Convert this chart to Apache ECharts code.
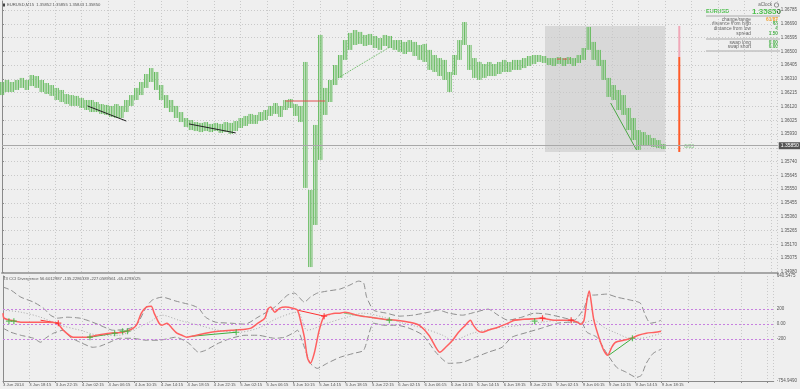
<!DOCTYPE html>
<html><head><meta charset="utf-8">
<script src="https://cdn.jsdelivr.net/npm/echarts@6/dist/echarts.min.js"></script>
<style>html,body{margin:0;padding:0;background:#efefef;}#c{width:800px;height:389px;}</style>
</head><body><div id="c"></div>
<script>
// ---- data ----
const BAR_STEP = 3; // each sample covers 3 M15 bars
const priceHigh = [1.36289,1.36303,1.36289,1.36303,1.36317,1.36303,1.36337,1.36330,1.36303,1.36282,
1.36268,1.36248,1.36234,1.36206,1.36199,1.36193,1.36179,1.36165,1.36165,1.36151,
1.36137,1.36131,1.36124,1.36137,1.36124,1.36165,1.36199,1.36248,1.36289,1.36344,
1.36385,1.36358,1.36268,1.36199,1.36165,1.36124,1.36082,1.36041,1.36027,1.36013,
1.36007,1.36013,1.36000,1.36007,1.36000,1.36013,1.36007,1.36020,1.36041,1.36055,
1.36069,1.36062,1.36082,1.36096,1.36124,1.36144,1.36124,1.36165,1.36172,1.36137,
1.36124,1.36427,1.35545,1.35993,1.36613,1.36248,1.36303,1.36406,1.36475,1.36578,
1.36627,1.36647,1.36634,1.36613,1.36620,1.36606,1.36592,1.36613,1.36606,1.36578,
1.36578,1.36565,1.36578,1.36565,1.36544,1.36551,1.36510,1.36475,1.36454,1.36441,
1.36358,1.36475,1.36578,1.36702,1.36544,1.36454,1.36427,1.36413,1.36427,1.36413,
1.36427,1.36441,1.36427,1.36441,1.36441,1.36454,1.36468,1.36475,1.36475,1.36468,
1.36454,1.36454,1.36461,1.36454,1.36461,1.36454,1.36475,1.36523,1.36668,1.36565,
1.36510,1.36441,1.36317,1.36268,1.36234,1.36199,1.36110,1.36041,1.35958,1.35944,
1.35924,1.35903,1.35889,1.35862];
const priceLow = [1.36199,1.36220,1.36220,1.36234,1.36248,1.36234,1.36261,1.36248,1.36220,1.36206,
1.36193,1.36165,1.36151,1.36137,1.36124,1.36124,1.36110,1.36096,1.36082,1.36082,
1.36069,1.36062,1.36048,1.36041,1.36041,1.36082,1.36124,1.36165,1.36199,1.36248,
1.36289,1.36234,1.36165,1.36110,1.36082,1.36041,1.36013,1.35979,1.35958,1.35951,
1.35944,1.35951,1.35944,1.35951,1.35938,1.35944,1.35931,1.35951,1.35972,1.35986,
1.36000,1.36000,1.36020,1.36027,1.36055,1.36069,1.36048,1.36096,1.36110,1.36055,
1.36013,1.35559,1.35014,1.35304,1.35752,1.36062,1.36151,1.36268,1.36317,1.36441,
1.36510,1.36544,1.36551,1.36537,1.36544,1.36523,1.36510,1.36537,1.36523,1.36510,
1.36496,1.36482,1.36496,1.36468,1.36441,1.36427,1.36372,1.36358,1.36330,1.36303,
1.36220,1.36337,1.36441,1.36544,1.36372,1.36317,1.36303,1.36317,1.36330,1.36330,
1.36344,1.36358,1.36358,1.36372,1.36372,1.36385,1.36399,1.36413,1.36427,1.36420,
1.36406,1.36399,1.36413,1.36399,1.36413,1.36399,1.36420,1.36441,1.36510,1.36441,
1.36399,1.36303,1.36186,1.36165,1.36096,1.36062,1.35958,1.35889,1.35821,1.35848,
1.35848,1.35841,1.35834,1.35827];

const timeLabels = ['3 Jun 2014','3 Jun 18:15','3 Jun 22:15','4 Jun 02:15','4 Jun 06:15','4 Jun 10:15',
'4 Jun 14:15','4 Jun 18:15','4 Jun 22:15','5 Jun 02:15','5 Jun 06:15','5 Jun 10:15','5 Jun 14:15',
'5 Jun 18:15','5 Jun 22:15','6 Jun 02:15','6 Jun 06:15','6 Jun 10:15','6 Jun 14:15','6 Jun 18:15',
'8 Jun 22:15','9 Jun 02:15','9 Jun 06:15','9 Jun 10:15','9 Jun 14:15','9 Jun 18:15'];
const priceLabelValues = [1.34980,1.35075,1.35170,1.35265,1.35360,1.35455,1.35550,1.35645,1.35740,
1.35930,1.36025,1.36120,1.36215,1.36310,1.36405,1.36500,1.36595,1.36690,1.36785];
const priceGridValues = [1.34980,1.35075,1.35170,1.35265,1.35360,1.35455,1.35550,1.35645,1.35740,1.35835,
1.35930,1.36025,1.36120,1.36215,1.36310,1.36405,1.36500,1.36595,1.36690,1.36785];
const cciLabelValues = [-754.9490,-200,0,200,640.5475];
const cciLabelTexts = ['-754.9490','-200','0.00','200','640.5475'];
const cciLevels = [200,0,-200];
const currentPrice = 1.35850;

const cciLine = [[0,147],[0.6,80],[4.8,53],[10.8,27],[18.6,27],[27,27],[33,13],[36.6,-80],[42.6,-173],[51,-173],[57,-147],[64.8,-120],[72.6,-107],[78,-67],[81,-13],[84,147],[87,227],[90,240],[91.8,147],[94.8,13],[96.6,-13],[99.6,13],[102.6,-53],[105.6,-120],[108.6,-147],[111.6,-173],[114.6,-160],[123,-120],[130.8,-93],[138.6,-80],[147,-67],[150.6,-53],[154.8,13],[159,80],[160.8,200],[162.6,227],[165,160],[168,213],[171.6,227],[175.8,213],[178.8,187],[180.6,53],[183,-173],[184.8,-440],[186.6,-520],[189,-387],[192,-80],[195,107],[198.6,133],[201.6,147],[204.6,147],[207.6,160],[210.6,147],[214.8,120],[222.6,93],[231,67],[238.8,53],[246.6,27],[252.6,-13],[258.6,-147],[262.8,-307],[265.2,-373],[268.8,-307],[273,-213],[276.6,-107],[280.8,-13],[283.8,53],[285.6,-13],[288,-80],[291,-107],[294.6,-80],[300.6,-40],[306.6,13],[310.8,53],[318.6,67],[327,80],[334.8,53],[345,53],[348.6,27],[351,0],[352.8,53],[354.6,320],[356,440],[357,320],[358.8,53],[361.8,-173],[364.8,-347],[367.2,-413],[369.6,-307],[372,-240],[376.8,-213],[381.6,-187],[385.8,-147],[390.6,-120],[396,-107],[399.6,-93]];
const upperBand = [[0,493],[4.8,453],[10.8,360],[18.6,293],[24.6,213],[28.8,120],[33,80],[39,93],[46.8,80],[52.8,40],[58.8,-13],[63,-53],[66.6,-80],[75,-67],[81,-13],[87,227],[90.6,320],[96.6,360],[105,307],[114.6,253],[118.8,213],[123,93],[129,27],[138.6,13],[147,0],[154.8,93],[165,227],[172.8,387],[177,413],[183,293],[186.6,360],[190.8,413],[196.8,440],[204.6,467],[210.6,520],[216,573],[219,547],[220.8,360],[225,187],[232.8,147],[240.6,107],[249,120],[258.6,160],[264.6,187],[270.6,147],[279,120],[286.8,160],[294.6,200],[300.6,120],[306.6,53],[315,93],[322.8,147],[330.6,133],[339,93],[346.8,53],[352.8,213],[355.8,387],[358.8,387],[366.6,400],[372.6,360],[381,320],[387,280],[390,120],[393,13],[396.6,27],[399.6,53]];
const lowerBand = [[0,-53],[4.8,-107],[10.8,-147],[18.6,-187],[22.8,-240],[25.8,-187],[30.6,-120],[36.6,-80],[40.8,-173],[46.8,-240],[54.6,-307],[58.8,-293],[64.8,-240],[70.8,-187],[78.6,-187],[87,-213],[94.8,-213],[105,-173],[112.8,-253],[118.8,-373],[123,-347],[130.8,-253],[138.6,-187],[147,-147],[154.8,-147],[165,-187],[171,-173],[177,-107],[178.8,-80],[183,-307],[186.6,-520],[190.8,-587],[196.8,-520],[204.6,-440],[213,-387],[219,-347],[225,13],[231,-13],[238.8,-13],[246.6,-53],[255,-147],[262.8,-373],[270.6,-520],[279,-507],[286.8,-440],[294.6,-373],[303,-307],[309,-173],[318.6,-107],[327,-53],[336.6,13],[345,27],[351,27],[354.6,-107],[360.6,-173],[366.6,-387],[372.6,-573],[378.6,-640],[384.6,-707],[387.6,-680],[390.6,-520],[394.8,-387],[399.6,-333]];
const signalLine = [[0,187],[10.8,160],[22.8,93],[34.8,-13],[46.8,-80],[58.8,-147],[70.8,-147],[78.6,-80],[88.8,27],[96.6,120],[106.8,53],[118.8,-13],[130.8,-80],[142.8,-107],[154.8,-53],[166.8,80],[178.8,160],[184.8,-80],[196.8,13],[208.8,93],[219,147],[231,93],[243,13],[255,-53],[267,-147],[273,-213],[285,-120],[298.8,-53],[315,-13],[327,27],[339,53],[351,13],[358.8,53],[364.8,-40],[372.6,-120],[381,-187],[387,-187],[399.6,-120]];
const bullMarks = [[3.6,40],[6.6,40],[52.8,-173],[67.8,-120],[72.6,-93],[75.6,-93],[141.6,-107],[234.6,53],[322.8,40],[382.2,-187]];
const bearMarks = [[33.6,13],[195,107],[327.6,80],[345,53]];
const bullDivLines = [[[52.8,-173],[75.6,-93]],[[114.6,-160],[141.6,-107]],[[367.8,-413],[382.2,-187]]];
const bullDivDotted = [[207,147],[234.6,53]];
const bearDivLines = [[[22.8,53],[33.6,13]],[[178.8,187],[195,107]],[[309,53],[327.6,80]]];

// chart objects on price pane
const blackTrend1 = [[51.6,1.36124],[75,1.36020]];
const blackTrend2 = [[112.8,1.36000],[141,1.35938]];
const redLevel = [[171,1.36158],[195,1.36158]];
const greenDotTrend = [[202.8,1.36317],[234,1.36530]];
const greenTrend = [[367.2,1.36144],[382.8,1.35821]];
const redDash = [[334.8,1.36447],[342.6,1.36447]];
const boxRange = [[327.6,1.36675],[400.2,1.35807]];
const rangeLinePink = [[408.6,1.36675],[408.6,1.36461]];
const rangeLineRed = [[408.6,1.36461],[408.6,1.35807]];
const rangeLabel = {text:'6/83', at:[408.6,1.35841]};

const chartTitle = 'EURUSD,M15  1.35852 1.35855 1.35843 1.35850';
const indTitle = 'T3 CCI Divergence 56.6012887 -135.2286339 -227.0589561 -65.4293025';
const panelLabels = ['change/range','distance from high','distance from low','spread','swap long','swap short'];
const panelValues = ['61/87','83','4','1.50','0.00','0.00'];

// ---- chart ----
const FONT = 'Liberation Sans';
const chart = echarts.init(document.getElementById('c'), null, {renderer:'canvas'});
const plusPath = 'path://M4,0h2v4h4v2h-4v4h-2v-4h-4v-2h4z';
const lvl = (arr, color, type, width, xi, yi, extra) => Object.assign({
  type:'line', data:arr, xAxisIndex:xi, yAxisIndex:yi, showSymbol:false, symbol:'none', silent:true,
  lineStyle:{color:color, width:width, type:type}, z:4, animation:false
}, extra||{});

const series = [];
series.push({
  type:'custom', xAxisIndex:0, yAxisIndex:0, animation:false, z:3,
  data: priceHigh.map((h,i)=>[i*BAR_STEP, priceLow[i], h]),
  encode:{x:0, y:[1,2]},
  renderItem:(params, api)=>{
    const x = api.value(0);
    const t = api.coord([x, api.value(2)]);
    const b = api.coord([x, api.value(1)]);
    const step = api.size([1,0])[0];
    const kids = [];
    for (let j=-1;j<=1;j++){
      kids.push({type:'line', shape:{x1:t[0]+j*step, y1:t[1], x2:b[0]+j*step, y2:b[1]}, style:{stroke:'#66bb5f', lineWidth:1}});
    }
    return {type:'group', children:kids};
  },
  markArea:{silent:true, itemStyle:{color:'rgba(200,200,200,0.6)'}, data:[[{coord:boxRange[0]},{coord:boxRange[1]}]]}
});
series.push(lvl(blackTrend1,'#222','solid',1,0,0));
series.push(lvl(blackTrend2,'#222','solid',1,0,0));
series.push(lvl(redLevel,'#e05050','solid',1,0,0, {
  markLine:{silent:true, symbol:'none', animation:false, precision:5,
    lineStyle:{color:'#a8a8a8', width:1, type:'solid'},
    label:{show:true, position:'end', distance:1, formatter:currentPrice.toFixed(5), color:'#fff',
      backgroundColor:'#555', padding:[1,2], fontSize:5, fontFamily:FONT},
    data:[{yAxis:currentPrice}]}}));
series.push(lvl(greenDotTrend,'#5db456','dotted',1,0,0));
series.push(lvl(greenTrend,'#4aa844','solid',1,0,0));
series.push(lvl(redDash,'#e05050','dashed',1,0,0));
series.push(lvl(rangeLinePink,'#f0a8b8','solid',2,0,0));
series.push(lvl(rangeLineRed,'#ff5a28','solid',2,0,0));
series.push({type:'scatter', xAxisIndex:0, yAxisIndex:0, symbolSize:0, silent:true, animation:false,
  data:[rangeLabel.at], label:{show:true, position:'right', distance:5, formatter:rangeLabel.text,
  color:'#4fb34f', fontSize:5, fontFamily:FONT}});

// indicator
series.push({type:'line', xAxisIndex:1, yAxisIndex:1, data:[], silent:true,
  markLine:{silent:true, symbol:'none', animation:false, precision:2, label:{show:false},
    lineStyle:{color:'#c77fe0', width:1, type:[2,2]}, data:cciLevels.map(v=>({yAxis:v}))}});
series.push(lvl(upperBand,'#8e8e8e',[6,3],1,1,1,{smooth:0.2}));
series.push(lvl(lowerBand,'#8e8e8e',[6,3],1,1,1,{smooth:0.2}));
series.push(lvl(signalLine,'#a8a8a8',[1,2],1,1,1,{smooth:0.3}));
bullDivLines.forEach(l=>series.push(lvl(l,'#3fae3f','solid',1,1,1)));
series.push(lvl(bullDivDotted,'#7ccf7c','solid',1,1,1));
bearDivLines.forEach(l=>series.push(lvl(l,'#ff3030','solid',1,1,1)));
series.push(lvl(cciLine,'#ff6060','solid',1.5,1,1,{smooth:0.25, z:5}));
series.push({type:'scatter', xAxisIndex:1, yAxisIndex:1, data:bullMarks, symbol:plusPath, symbolSize:6,
  itemStyle:{color:'#3fb53f'}, z:6, silent:true, animation:false});
series.push({type:'scatter', xAxisIndex:1, yAxisIndex:1, data:bearMarks, symbol:plusPath, symbolSize:6,
  itemStyle:{color:'#ff2424'}, z:6, silent:true, animation:false});

const gridLine = {show:true, lineStyle:{color:'#c9c9c9', type:[1,2], width:1}};
const xCommon = {type:'value', min:0, max:468, interval:16};

// info panel graphics
const panelY = [19.3,24,28.7,33.3,42.3,46.7];
const graphic = [
  {type:'rect', shape:{x:2,y:3.5,width:3,height:3}, style:{fill:'#444'}},
  {type:'text', x:7, y:5, style:{text:chartTitle, fill:'#555', fontSize:4.2, fontFamily:FONT, verticalAlign:'middle'}},
  {type:'text', x:3, y:279, style:{text:indTitle, fill:'#555', fontSize:4.2, fontFamily:FONT, verticalAlign:'middle'}},
  {type:'text', x:772, y:5, style:{text:'aClock', fill:'#666', fontSize:4.5, fontFamily:FONT, align:'right', verticalAlign:'middle'}},
  {type:'circle', shape:{cx:776.5, cy:5, r:2.2}, style:{fill:'none', stroke:'#777', lineWidth:0.8}},
  {type:'text', x:706, y:11.5, style:{text:'EURUSD', fill:'#4cbf4c', fontSize:5.5, fontWeight:'bold', fontFamily:FONT, verticalAlign:'middle'}},
  {type:'text', x:781, y:11.5, style:{text:'{a|1.3585}{b|0}', align:'right', verticalAlign:'middle',
    rich:{a:{fill:'#4cbf4c', fontSize:8, fontWeight:'bold', fontFamily:FONT}, b:{fill:'#2d6b2d', fontSize:8, fontWeight:'bold', fontFamily:FONT}}}},
  {type:'line', shape:{x1:706,y1:16,x2:780,y2:16}, style:{stroke:'#9a9a9a', lineWidth:0.8}},
  {type:'line', shape:{x1:706,y1:39,x2:780,y2:39}, style:{stroke:'#9a9a9a', lineWidth:0.8}},
  {type:'line', shape:{x1:706,y1:51,x2:780,y2:51}, style:{stroke:'#9a9a9a', lineWidth:0.8}}
];
panelLabels.forEach((t,i)=>{
  graphic.push({type:'text', x:751, y:panelY[i], style:{text:t, fill:'#666', fontSize:4.8, fontFamily:FONT, align:'right', verticalAlign:'middle'}});
  graphic.push({type:'text', x:778, y:panelY[i], style:{text:panelValues[i], fill: i===0?'#f0a030':'#44b044', fontSize:4.8, fontWeight:'bold', fontFamily:FONT, align:'right', verticalAlign:'middle'}});
});

chart.setOption({
  backgroundColor:'#efefef',
  animation:false,
  textStyle:{fontFamily:FONT},
  grid:[{left:2, top:1, width:780, height:272}, {left:2, top:276, width:780, height:105}],
  xAxis:[
    Object.assign({gridIndex:0}, xCommon, {axisLine:{show:true, onZero:false, lineStyle:{color:'#a6a6a6', width:2}},
      axisTick:{show:false}, axisLabel:{show:false}, splitLine:gridLine}),
    Object.assign({gridIndex:1}, xCommon, {axisLine:{show:true, onZero:false, lineStyle:{color:'#8a8a8a', width:1}},
      axisTick:{show:true, length:2, lineStyle:{color:'#8a8a8a'}},
      axisLabel:{show:true, align:'left', margin:2, fontSize:4.2, color:'#555', fontFamily:FONT, showMaxLabel:false,
        formatter:(v)=>{const i=Math.round(v/16); return (v%16===0 && i<timeLabels.length)?timeLabels[i]:'';}},
      splitLine:gridLine})
  ],
  yAxis:[
    {gridIndex:0, type:'value', position:'right', min:1.34973, max:1.36847, scale:true,
      axisLine:{show:true, lineStyle:{color:'#8a8a8a'}},
      axisTick:{show:true, length:2, customValues:priceGridValues, lineStyle:{color:'#8a8a8a'}},
      axisLabel:{show:true, customValues:priceLabelValues, margin:3, fontSize:4.5, color:'#555', fontFamily:FONT,
        formatter:(v)=>v.toFixed(5)},
      splitLine:gridLine},
    {gridIndex:1, type:'value', position:'right', min:-754.9490, max:640.5475,
      axisLine:{show:true, lineStyle:{color:'#8a8a8a'}},
      axisTick:{show:true, length:2, customValues:cciLabelValues, lineStyle:{color:'#8a8a8a'}},
      axisLabel:{show:true, customValues:cciLabelValues, margin:3, fontSize:4.5, color:'#555', fontFamily:FONT,
        formatter:(v)=>{const i=cciLabelValues.findIndex(c=>Math.abs(c-v)<1e-6); return i>=0?cciLabelTexts[i]:'';}},
      splitLine:{show:false}}
  ],
  graphic: graphic,
  series: series
});
</script></body></html>
